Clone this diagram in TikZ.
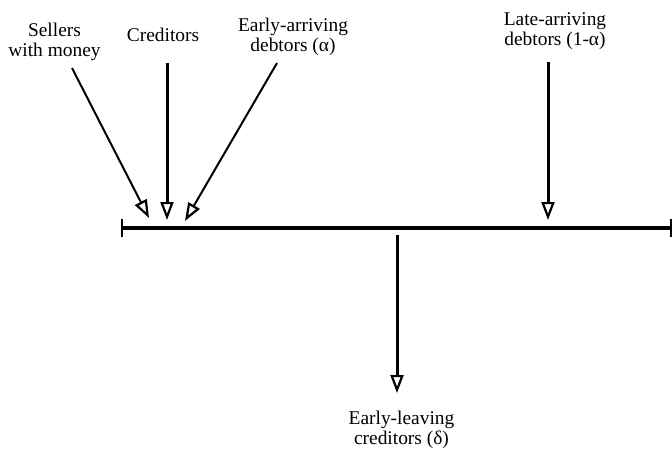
\documentclass[tikz,border=0pt]{standalone}
\usepackage{fontspec}
\setmainfont{Liberation Serif}
\usetikzlibrary{arrows.meta}
\begin{document}
\begin{tikzpicture}[x=1pt,y=-1pt,
  lbl/.style={align=center,inner sep=0pt,anchor=base,font=\fontsize{19.4}{20}\selectfont},
  thick arrow/.style={line width=3pt,-{Triangle[open,length=18pt,width=13pt,line width=2.2pt]}},
  thin arrow/.style={line width=2pt,-{Triangle[open,length=18pt,width=13pt,line width=2.2pt]}},
  timeline/.style={line width=3.2pt,{Bar[width=18pt,line width=2pt]}-{Bar[width=18pt,line width=2pt]}}]
\useasboundingbox (0,0) rectangle (672,448);
% texts (anchored at last baseline)
\node[lbl] (sellers) at (54.5,56.7) {Sellers\\with money};
\node[lbl] (cred) at (163,41.7) {Creditors};
\node[lbl] (early) at (293,51.7) {Early-arriving\\debtors (α)};
\node[lbl] (late) at (555,45) {Late-arriving\\debtors (1-α)};
\node[lbl] (leave) at (401.5,444) {Early-leaving\\creditors (δ)};
% timeline
\coordinate (L) at (121,228);
\coordinate (R) at (671.5,228);
\draw[timeline] (L) -- (R);
% arrow ends
\coordinate (s0) at (72,68);   \coordinate (s1) at (149,218);
\coordinate (c0) at (167,63);  \coordinate (c1) at (167,220);
\coordinate (e0) at (277,63);  \coordinate (e1) at (185,221);
\coordinate (l0) at (548,62);  \coordinate (l1) at (548,220);
\coordinate (d0) at (397,235); \coordinate (d1) at (397,393);
\draw[thin arrow] (s0) -- (s1);
\draw[thick arrow] (c0) -- (c1);
\draw[thin arrow] (e0) -- (e1);
\draw[thick arrow] (l0) -- (l1);
\draw[thick arrow] (d0) -- (d1);
\end{tikzpicture}
\end{document}
